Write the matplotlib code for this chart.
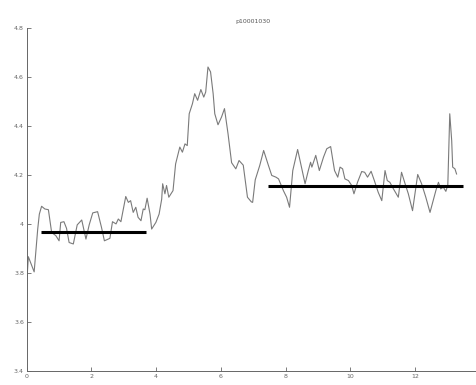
import matplotlib
matplotlib.use("Agg")
import matplotlib.pyplot as plt

# signal
t = [0.00, 0.05, 0.23, 0.34, 0.39, 0.46, 0.56, 0.67, 0.77, 0.90, 1.00, 1.05, 1.15, 1.23, 1.31,
     1.44, 1.56, 1.70, 1.83, 1.93, 2.04, 2.19, 2.31, 2.40, 2.52, 2.57, 2.65, 2.76, 2.83, 2.91,
     3.06, 3.14, 3.21, 3.29, 3.37, 3.44, 3.53, 3.60, 3.65, 3.72, 3.81, 3.86, 3.99, 4.09, 4.17,
     4.20, 4.27, 4.32, 4.39, 4.52, 4.60, 4.73, 4.81, 4.89, 4.96, 5.02, 5.12, 5.19, 5.28, 5.38,
     5.47, 5.53, 5.60, 5.68, 5.76, 5.81, 5.91, 6.02, 6.11, 6.22, 6.33, 6.46, 6.56, 6.69, 6.82,
     6.94, 6.98, 7.06, 7.20, 7.32, 7.46, 7.57, 7.70, 7.78, 7.93, 8.03, 8.12, 8.22, 8.37, 8.50,
     8.60, 8.70, 8.77, 8.81, 8.93, 9.04, 9.17, 9.27, 9.39, 9.51, 9.61, 9.68, 9.76, 9.83, 9.94,
     10.04, 10.11, 10.22, 10.35, 10.44, 10.53, 10.64, 10.74, 10.86, 10.97, 11.07, 11.14, 11.22,
     11.33, 11.48, 11.58, 11.69, 11.79, 11.92, 12.08, 12.20, 12.33, 12.46, 12.64, 12.72, 12.79,
     12.87, 12.95, 13.01, 13.07, 13.13, 13.16, 13.23, 13.28]
v = [3.755, 3.866, 3.804, 3.979, 4.040, 4.072, 4.061, 4.058, 3.965, 3.952, 3.931, 4.006, 4.009, 3.982, 3.924,
     3.918, 3.996, 4.016, 3.938, 3.996, 4.045, 4.050, 3.986, 3.931, 3.938, 3.941, 4.009, 4.000, 4.020, 4.009,
     4.112, 4.088, 4.095, 4.047, 4.068, 4.027, 4.013, 4.061, 4.058, 4.105, 4.040, 3.979, 4.006, 4.040, 4.101,
     4.164, 4.123, 4.157, 4.109, 4.136, 4.245, 4.314, 4.293, 4.327, 4.320, 4.450, 4.491, 4.532, 4.505, 4.549,
     4.518, 4.539, 4.641, 4.621, 4.532, 4.450, 4.405, 4.437, 4.471, 4.368, 4.250, 4.225, 4.259, 4.240, 4.109,
     4.090, 4.088, 4.180, 4.239, 4.300, 4.242, 4.198, 4.191, 4.184, 4.136, 4.109, 4.068, 4.218, 4.304, 4.225,
     4.164, 4.218, 4.252, 4.232, 4.280, 4.218, 4.273, 4.307, 4.316, 4.218, 4.191, 4.232, 4.225, 4.184, 4.177,
     4.157, 4.123, 4.170, 4.214, 4.211, 4.191, 4.215, 4.177, 4.129, 4.095, 4.218, 4.177, 4.170,
     4.143, 4.109, 4.211, 4.164, 4.123, 4.054, 4.202, 4.164, 4.109, 4.047, 4.136, 4.170, 4.143,
     4.150, 4.133, 4.160, 4.450, 4.340, 4.232, 4.225, 4.204]

# mean levels (start, end, level)
seg_start = [0.43, 7.45]
seg_end = [3.68, 13.49]
seg_level = [3.967, 4.154]

yticks = [3.4, 3.6, 3.8, 4.0, 4.2, 4.4, 4.6, 4.8]
ytick_labels = ["3.4", "3.6", "3.8", "4", "4.2", "4.4", "4.6", "4.8"]
xticks = [0, 2, 4, 6, 8, 10, 12, 14]
xtick_labels = ["0", "2", "4", "6", "8", "10", "12", ""]

fig = plt.figure(figsize=(4.77, 3.85), dpi=100)
ax = fig.add_axes([0.056, 0.037, 0.950, 0.890])

ax.plot(t, v, color="#7a7a7a", lw=0.8)
for a, b, lev in zip(seg_start, seg_end, seg_level):
    ax.plot([a, b], [lev, lev], color="black", lw=2.2, solid_capstyle="butt")

ax.set_xlim(0, 14)
ax.set_ylim(3.4, 4.8)
ax.set_xticks(xticks)
ax.set_xticklabels(xtick_labels)
ax.set_yticks(yticks)
ax.set_yticklabels(ytick_labels)
ax.tick_params(direction="in", length=3, width=0.6, labelsize=4.5,
               colors="#666666", pad=2)
for s in ["top", "right"]:
    ax.spines[s].set_visible(False)
for s in ["left", "bottom"]:
    ax.spines[s].set_color("#666666")
    ax.spines[s].set_linewidth(0.7)

ax.set_title("p10001030", fontsize=4.5, color="#555555", pad=4)

fig.savefig("out.png", dpi=100)
